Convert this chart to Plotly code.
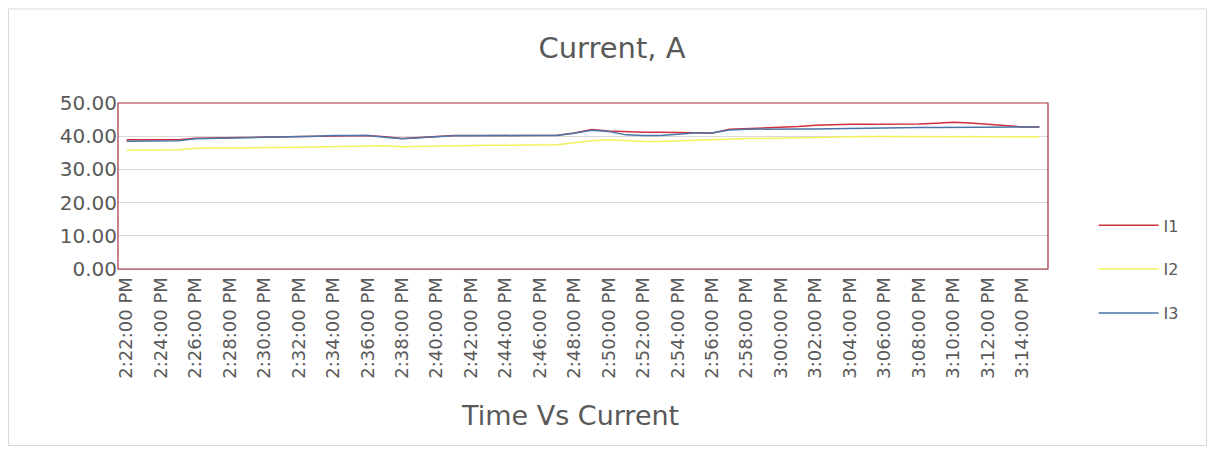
import plotly.graph_objects as go

times = [
    "2:22:00 PM", "2:23:00 PM", "2:24:00 PM", "2:25:00 PM", "2:26:00 PM", "2:27:00 PM",
    "2:28:00 PM", "2:29:00 PM", "2:30:00 PM", "2:31:00 PM", "2:32:00 PM", "2:33:00 PM",
    "2:34:00 PM", "2:35:00 PM", "2:36:00 PM", "2:37:00 PM", "2:38:00 PM", "2:39:00 PM",
    "2:40:00 PM", "2:41:00 PM", "2:42:00 PM", "2:43:00 PM", "2:44:00 PM", "2:45:00 PM",
    "2:46:00 PM", "2:47:00 PM", "2:48:00 PM", "2:49:00 PM", "2:50:00 PM", "2:51:00 PM",
    "2:52:00 PM", "2:53:00 PM", "2:54:00 PM", "2:55:00 PM", "2:56:00 PM", "2:57:00 PM",
    "2:58:00 PM", "2:59:00 PM", "3:00:00 PM", "3:01:00 PM", "3:02:00 PM", "3:03:00 PM",
    "3:04:00 PM", "3:05:00 PM", "3:06:00 PM", "3:07:00 PM", "3:08:00 PM", "3:09:00 PM",
    "3:10:00 PM", "3:11:00 PM", "3:12:00 PM", "3:13:00 PM", "3:14:00 PM", "3:15:00 PM",
]

tick_labels = [
    "2:22:00 PM", "2:24:00 PM", "2:26:00 PM", "2:28:00 PM", "2:30:00 PM", "2:32:00 PM",
    "2:34:00 PM", "2:36:00 PM", "2:38:00 PM", "2:40:00 PM", "2:42:00 PM", "2:44:00 PM",
    "2:46:00 PM", "2:48:00 PM", "2:50:00 PM", "2:52:00 PM", "2:54:00 PM", "2:56:00 PM",
    "2:58:00 PM", "3:00:00 PM", "3:02:00 PM", "3:04:00 PM", "3:06:00 PM", "3:08:00 PM",
    "3:10:00 PM", "3:12:00 PM", "3:14:00 PM",
]

I1 = [
    38.9, 38.9, 38.9, 38.9, 39.4, 39.5, 39.5, 39.6, 39.6, 39.8, 39.9, 40.0,
    40.2, 40.3, 40.2, 39.8, 39.3, 39.6, 40.0, 40.2, 40.2, 40.2, 40.2, 40.2,
    40.3, 40.3, 41.0, 42.0, 41.6, 41.3, 41.2, 41.2, 41.2, 41.0, 41.0, 42.1,
    42.3, 42.4, 42.5, 42.9, 43.3, 43.5, 43.6, 43.6, 43.6, 43.6, 43.7, 43.9,
    44.2, 44.0, 43.6, 43.1, 42.8, 42.8,
]

I2 = [
    35.8, 35.8, 35.8, 35.9, 36.4, 36.4, 36.5, 36.5, 36.6, 36.6, 36.7, 36.8,
    36.9, 37.0, 37.2, 37.1, 36.8, 36.9, 37.2, 37.3, 37.3, 37.3, 37.3, 37.3,
    37.3, 37.4, 38.0, 38.6, 38.9, 38.6, 38.4, 38.4, 38.6, 38.8, 38.9, 39.2,
    39.3, 39.3, 39.4, 39.6, 39.8, 39.8, 39.8, 39.9, 39.9, 39.9, 39.9, 40.0,
    40.0, 40.0, 39.9, 39.9, 39.8, 39.8,
]

I3 = [
    38.5, 38.5, 38.5, 38.6, 39.2, 39.3, 39.4, 39.5, 39.5, 39.7, 39.8, 40.0,
    40.2, 40.3, 40.2, 39.7, 39.2, 39.5, 39.9, 40.1, 40.1, 40.2, 40.2, 40.2,
    40.2, 40.2, 40.9, 41.8, 41.4, 40.4, 40.2, 40.2, 40.6, 41.0, 41.0, 41.9,
    42.1, 42.2, 42.2, 42.2, 42.2, 42.3, 42.3, 42.4, 42.4, 42.5, 42.6, 42.6,
    42.6, 42.6, 42.6, 42.7, 42.8, 42.8,
]

series = [("I1", I1, "#D0303E"), ("I2", I2, "#F2F25A"), ("I3", I3, "#4A76A8")]

FONT = "'DejaVu Sans', sans-serif"
GREY = "#595959"

W, H = 1199, 439
L, T = 110, 95
PW, PH = 930, 166

fig = go.Figure()
for name, vals, color in series:
    fig.add_trace(go.Scatter(
        x=times, y=vals, name=name, mode="lines",
        line=dict(color=color, width=1.5),
        legendgroup=name,
    ))

fig.update_layout(
    width=W, height=H,
    paper_bgcolor="white", plot_bgcolor="white",
    margin=dict(l=L, r=W - L - PW, t=T, b=H - T - PH),
    font=dict(family=FONT, color=GREY),
    title=dict(text="Current, A", x=(612 - 8) / W, xanchor="center",
               y=1 - 40 / H, yanchor="middle",
               font=dict(size=29, color=GREY, family=FONT)),
    showlegend=True,
    legend=dict(x=1.049, xanchor="left", y=0.365, yanchor="top",
                font=dict(size=16, color=GREY, family=FONT),
                tracegroupgap=20, itemwidth=60, bgcolor="rgba(0,0,0,0)"),
    xaxis=dict(
        type="category", categoryorder="array", categoryarray=times,
        range=[-0.5, len(times) - 0.5],
        tickmode="array", tickvals=tick_labels, ticktext=tick_labels,
        tickangle=-90, tickfont=dict(size=18, color=GREY, family=FONT),
        showgrid=False, showline=True, linecolor="#BFBFBF", zeroline=False,
        ticks="", ticklen=0,
    ),
    yaxis=dict(
        range=[0, 50], dtick=10, tick0=0, tickformat=".2f",
        tickfont=dict(size=20, color=GREY, family=FONT),
        showgrid=True, gridcolor="#D9D9D9", gridwidth=1,
        zeroline=False, showline=False, ticks="",
    ),
    annotations=[
        dict(text="Time Vs Current", xref="paper", yref="paper",
             x=(570 - 8 - L) / PW, y=-(415 - 8 - T - PH) / PH,
             xanchor="center", yanchor="middle", showarrow=False,
             font=dict(size=27, color=GREY, family=FONT)),
    ],
    shapes=[
        dict(type="rect", xref="paper", yref="paper", x0=0, x1=1, y0=0, y1=1,
             line=dict(color="#A8303C", width=1.2), fillcolor="rgba(0,0,0,0)", layer="above"),
        dict(type="rect", xref="paper", yref="paper",
             x0=-(L - 0.5) / PW, x1=(W - L - 0.5) / PW,
             y0=-(H - T - PH - 1.5) / PH, y1=1 + (T - 1) / PH,
             line=dict(color="#D9D9D9", width=1), fillcolor="rgba(0,0,0,0)", layer="below"),
    ],
)

fig.write_html("out.html")
